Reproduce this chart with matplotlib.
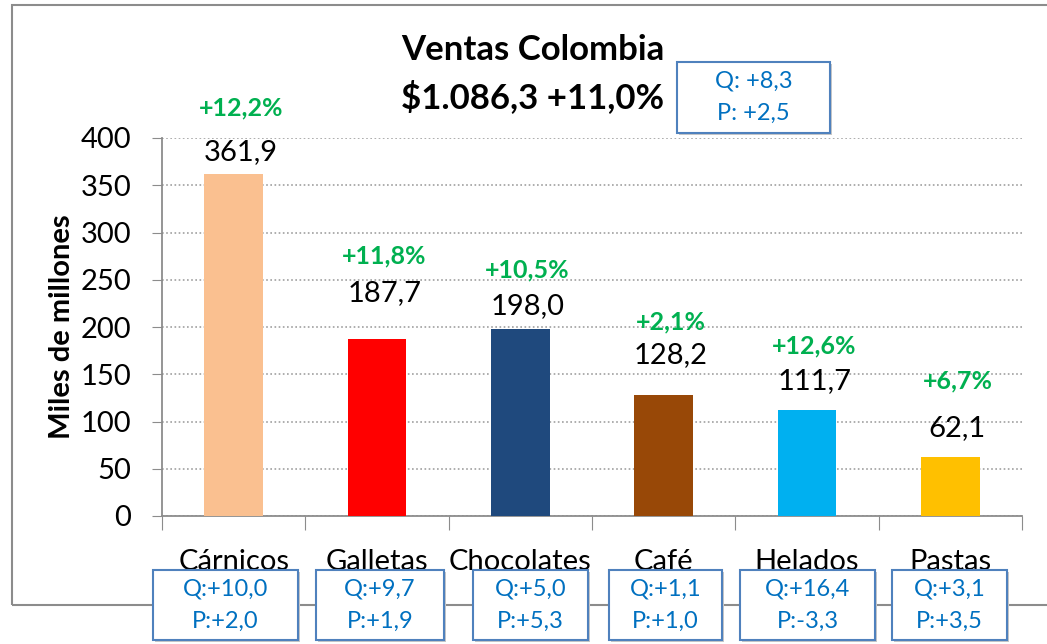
import matplotlib.pyplot as plt
from matplotlib.patches import Rectangle

plt.rcParams['font.family'] = ['Lato', 'DejaVu Sans']

# Data
categorias = ['Cárnicos', 'Galletas', 'Chocolates', 'Café', 'Helados', 'Pastas']
ventas = [361.9, 187.7, 198.0, 128.2, 111.7, 62.1]
crecimiento = ['+12,2%', '+11,8%', '+10,5%', '+2,1%', '+12,6%', '+6,7%']
q_vals = ['+10,0', '+9,7', '+5,0', '+1,1', '+16,4', '+3,1']
p_vals = ['+2,0', '+1,9', '+5,3', '+1,0', '-3,3', '+3,5']
colores = ['#FAC090', '#FF0000', '#1F497D', '#984807', '#00B0F0', '#FFC000']

# label offsets above bar tops (hand placed in original chart)
off_valor = [23, 48, 24, 42, 31, 31]
off_pct = [70, 88, 62, 77, 68, 81]
# Q/P boxes: left edge and width in pixels
cajas = [(153, 145), (316, 128), (473, 115), (609, 113), (740, 135), (892, 115)]

GREEN = '#00B050'
BLUE = '#0070C0'
EDGE = '#4F81BD'
GRAY = '#8C8C8C'
W, H = 1047, 644

fig = plt.figure(figsize=(W / 100, H / 100), dpi=100)
ax = fig.add_axes([162 / W, 1 - 516 / H, 860 / W, 378 / H])

x = list(range(len(categorias)))
ax.bar(x, ventas, width=0.41, color=colores, zorder=3)

ax.set_xlim(-0.5, len(categorias) - 0.5)
ax.set_ylim(0, 400)
ax.set_yticks(range(0, 401, 50))
ax.yaxis.grid(True, linestyle=(0, (1, 1.5)), color='#A0A0A0', linewidth=1.2, zorder=0)
ax.tick_params(axis='y', labelsize=21, length=7, color=GRAY, pad=15)

# category labels and ticks between categories
ax.set_xticks([i - 0.5 for i in range(len(categorias) + 1)])
ax.set_xticklabels([])
ax.set_xticks(x, minor=True)
ax.set_xticklabels(categorias, minor=True, fontsize=21)
ax.tick_params(axis='x', which='major', length=10, color=GRAY, direction='out')
ax.tick_params(axis='x', which='minor', length=0, pad=24)

for s in ['top', 'right']:
    ax.spines[s].set_visible(False)
for s in ['left', 'bottom']:
    ax.spines[s].set_color(GRAY)
    ax.spines[s].set_linewidth(1.3)

ax.set_ylabel('Miles de millones', fontsize=21, fontweight='bold', labelpad=4)

# value + growth labels
for i, v in enumerate(ventas):
    ax.text(i + 0.05, v + off_valor[i], f'{v:.1f}'.replace('.', ','), ha='center', va='center',
            fontsize=21, color='black', clip_on=False)
    ax.text(i + 0.05, v + off_pct[i], crecimiento[i], ha='center', va='center',
            fontsize=18, fontweight='bold', color=GREEN, clip_on=False)


def caja(left, top, width, height, texto):
    fig.patches.append(Rectangle((left / W + 2 / W, 1 - (top + height + 2) / H), width / W, height / H,
                                 transform=fig.transFigure, fc='#C8C8C8', ec='none', zorder=4))
    fig.patches.append(Rectangle((left / W, 1 - (top + height) / H), width / W, height / H,
                                 transform=fig.transFigure, fc='white', ec=EDGE, lw=1.5, zorder=5))
    fig.text((left + width / 2) / W, 1 - (top + height / 2) / H, texto, ha='center', va='center',
             fontsize=17, color=BLUE, linespacing=1.65, zorder=6)


# Q / P boxes under the categories
for i in x:
    left, width = cajas[i]
    caja(left, 570, width, 70, f'Q:{q_vals[i]}\nP:{p_vals[i]}')

# title
fig.text(533 / W, 1 - 50 / H, 'Ventas Colombia', ha='center', va='center', fontsize=25, fontweight='bold')
fig.text(533 / W, 1 - 97 / H, '$1.086,3 +11,0%', ha='center', va='center', fontsize=25, fontweight='bold')
caja(677, 62, 153, 71, 'Q: +8,3\nP: +2,5')

# outer frame of the chart area
fig.patches.append(Rectangle((12 / W, 1 - 605 / H), 1.1, 600 / H, transform=fig.transFigure,
                             fill=False, ec=GRAY, lw=1.5, zorder=0))

fig.savefig('out.png', dpi=100)
